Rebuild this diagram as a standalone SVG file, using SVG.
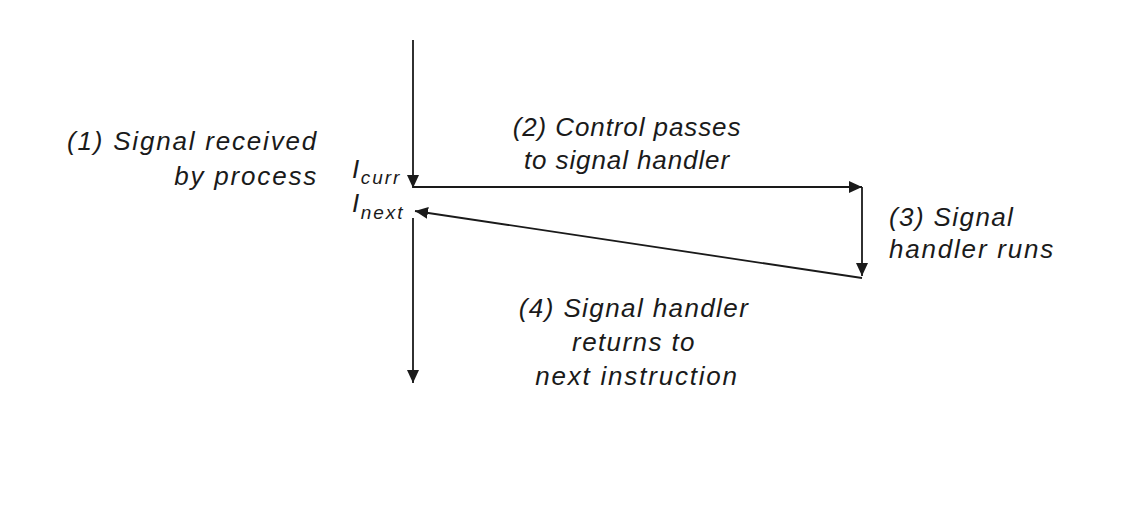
<svg xmlns="http://www.w3.org/2000/svg" width="1148" height="512" viewBox="0 0 1148 512">
<defs>
<marker id="ah" markerUnits="userSpaceOnUse" markerWidth="14" markerHeight="12" refX="13" refY="6" orient="auto">
<path d="M0,0 L13,6 L0,12 Z" fill="#1a1a1a"/>
</marker>
<style>
.t{font-family:"Liberation Sans",Arial,sans-serif;font-style:italic;font-size:26px;letter-spacing:1.4px;fill:#1a1a1a}
.n{letter-spacing:0.9px}
.w{letter-spacing:1.8px}
.s{font-size:19px;letter-spacing:2px}
.c{fill:none;stroke:#1a1a1a;stroke-width:1.8}
</style>
</defs>
<rect width="1148" height="512" fill="#ffffff"/>
<g id="connectors">
<line class="c" x1="413" y1="40" x2="413" y2="188" marker-end="url(#ah)"/>
<line class="c" x1="413" y1="187" x2="862" y2="187" marker-end="url(#ah)"/>
<line class="c" x1="862" y1="187" x2="862" y2="276" marker-end="url(#ah)"/>
<line class="c" x1="862" y1="278" x2="415" y2="211" marker-end="url(#ah)"/>
<line class="c" x1="413" y1="218" x2="413" y2="383" marker-end="url(#ah)"/>
</g>
<g id="label1">
<text class="t w" x="318" y="150" text-anchor="end">(1) Signal received</text>
<text class="t w" x="318" y="185" text-anchor="end">by process</text>
</g>
<g id="icurr">
<text class="t" x="352" y="178">I<tspan class="s" dy="6">curr</tspan></text>
</g>
<g id="inext">
<text class="t" x="352" y="212">I<tspan class="s" dy="7">next</tspan></text>
</g>
<g id="label2">
<text class="t n" x="627" y="136" text-anchor="middle">(2) Control passes</text>
<text class="t n" x="627" y="169" text-anchor="middle">to signal handler</text>
</g>
<g id="label3">
<text class="t" x="889" y="226">(3) Signal</text>
<text class="t w" x="889" y="258">handler runs</text>
</g>
<g id="label4">
<text class="t" x="634" y="317" text-anchor="middle">(4) Signal handler</text>
<text class="t" x="634" y="351" text-anchor="middle">returns to</text>
<text class="t w" x="637" y="385" text-anchor="middle">next instruction</text>
</g>
</svg>
